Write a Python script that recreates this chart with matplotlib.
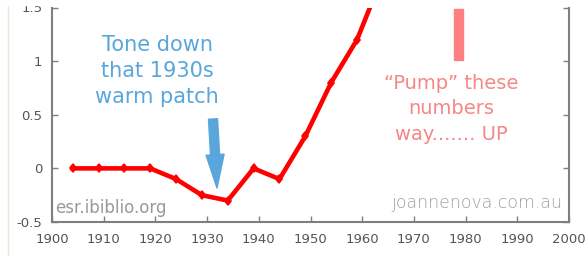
import numpy as np
import matplotlib.pyplot as plt
from matplotlib.patches import Rectangle

# data
years = [1904, 1909, 1914, 1919, 1924, 1929, 1934, 1939, 1944, 1949, 1954, 1959, 1964]
anomaly = [0.0, 0.0, 0.0, 0.0, -0.1, -0.25, -0.3, 0.0, -0.1, 0.3, 0.8, 1.2, 1.8]
xticks = list(range(1900, 2001, 10))
yticks = [-0.5, 0, 0.5, 1, 1.5]
ytick_labels = ["-0.5", "0", "0.5", "1", "1.5"]

W, H = 586, 256
fig = plt.figure(figsize=(W / 100, H / 100), dpi=100)
ax = fig.add_axes([52 / W, 1 - 222 / H, (569 - 52) / W, (222 - 7.5) / H])

grey = "#7f7f7f"
ax.plot(years, anomaly, color="#ff0000", lw=3.3, marker="d", ms=4.5, mew=1.2, zorder=3)

ax.set_xlim(1900, 2000)
ax.set_ylim(-0.5, 1.5)
ax.set_xticks(xticks)
ax.set_yticks(yticks)
ax.set_yticklabels(ytick_labels)
ax.tick_params(direction="in", length=4, width=1, color=grey, labelcolor="#555555",
               labelsize=9.5, right=True, pad=7)
ax.tick_params(axis="x", pad=8)
for side in ["left", "right", "bottom"]:
    ax.spines[side].set_color(grey)
    ax.spines[side].set_linewidth(1.5)
ax.spines["top"].set_visible(False)

blue = "#58a6dc"
pink = "#f58787"


def px(x, y):
    # picture pixels (from top-left) to figure fraction
    return x / W, 1 - y / H


# hand written notes
fig.text(*px(157, 71), "Tone down\nthat 1930s\nwarm patch", color=blue, fontsize=15,
         ha="center", va="center", linespacing=1.35)
fig.text(*px(451, 109), "\u201cPump\u201d these\nnumbers\nway....... UP", color=pink,
         fontsize=14, ha="center", va="center", linespacing=1.45)

# arrow and bar
ax.annotate("", xy=(217, H - 188), xytext=(213, H - 119), xycoords="figure pixels",
            textcoords="figure pixels",
            arrowprops=dict(arrowstyle="simple,head_width=1.3,head_length=2.4,tail_width=0.65",
                            color=blue, mutation_scale=10, shrinkA=0, shrinkB=0))
fig.patches.append(Rectangle(px(454, 60), 9 / W, 51 / H, color="#ff8080",
                             transform=fig.transFigure, figure=fig))

# watermarks
fig.text(*px(55, 208), "esr.ibiblio.org", color="#999999", fontsize=12, va="center", ha="left")
fig.text(*px(562, 203), "joannenova.com.au", color="#a0a0a0", fontsize=12.5, va="center",
         ha="right", fontweight="light")

# cropped top edge and faint frame at the left
fig.patches.append(Rectangle((0, 1 - 5 / H), 1, 5 / H, color="white", transform=fig.transFigure,
                             figure=fig, zorder=10))
fig.add_artist(plt.Line2D([8 / W, 8 / W], [0, 1], color="#e6e6d8", lw=1))

fig.savefig("out.png", dpi=100)
